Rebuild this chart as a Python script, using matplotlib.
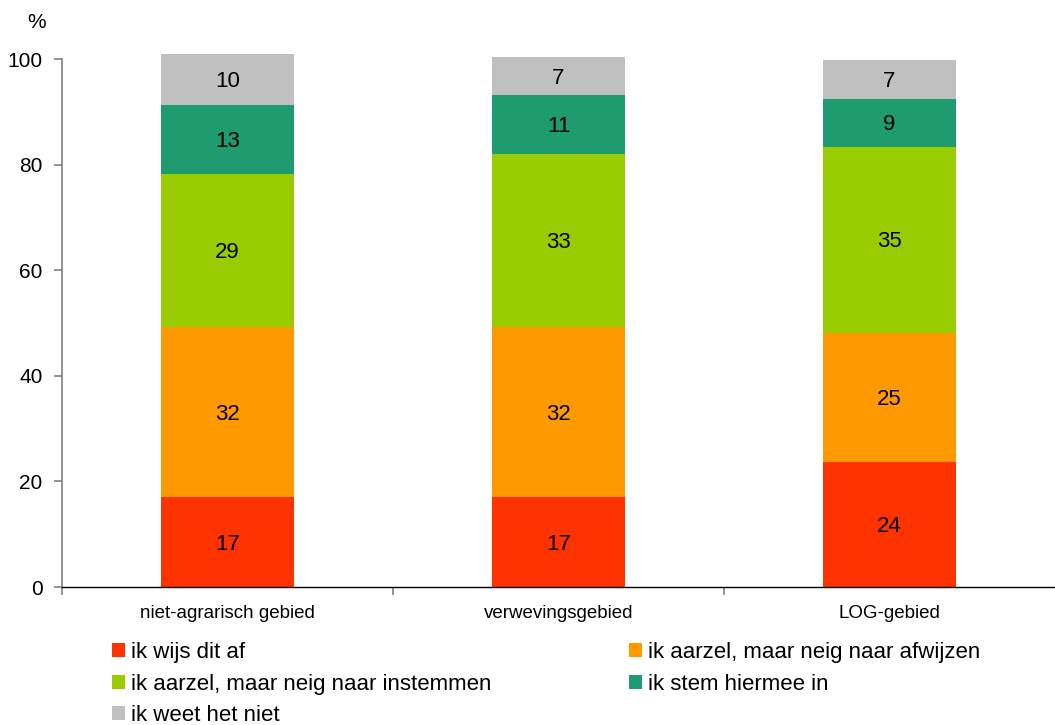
import numpy as np
import matplotlib.pyplot as plt
from matplotlib.patches import Patch

plt.rcParams['font.family'] = ['Liberation Sans', 'DejaVu Sans']

# Categorieen en waarden (procenten)
gebieden = ['niet-agrarisch gebied', 'verwevingsgebied', 'LOG-gebied']
wijs_af = [17.0, 17.0, 23.6]
neig_afwijzen = [32.2, 32.2, 24.6]
neig_instemmen = [29.0, 32.8, 35.2]
stem_in = [13.1, 11.2, 9.1]
weet_niet = [9.6, 7.2, 7.4]

reeksen = [wijs_af, neig_afwijzen, neig_instemmen, stem_in, weet_niet]
namen = ['ik wijs dit af', 'ik aarzel, maar neig naar afwijzen',
         'ik aarzel, maar neig naar instemmen', 'ik stem hiermee in',
         'ik weet het niet']
kleuren = ['#FF3300', '#FF9900', '#99CC00', '#1E9C6F', '#C0C0C0']

fig = plt.figure(figsize=(10.55, 7.25), dpi=100)
ax = fig.add_axes([0.0588, 0.1903, 0.9412, 0.7283])

x = np.arange(len(gebieden))
onder = np.zeros(len(gebieden))
for waarden, kleur in zip(reeksen, kleuren):
    waarden = np.array(waarden)
    ax.bar(x, waarden, 0.4, bottom=onder, color=kleur, clip_on=False, zorder=2)
    for xi, b, w in zip(x, onder, waarden):
        ax.text(xi, b + w / 2 - 0.4, f'{w:.0f}', ha='center', va='center', fontsize=16, color='black')
    onder += waarden

ax.set_xlim(-0.5, 2.5)
ax.set_ylim(0, 100)
ax.set_yticks(np.arange(0, 101, 20))
ax.tick_params(axis='y', labelsize=15, color='#808080', length=6, width=1.2, pad=8)
ax.set_xticks(x)
ax.set_xticklabels(gebieden, fontsize=13.5)
ax.set_xticks([-0.5, 0.5, 1.5], minor=True)
ax.tick_params(axis='x', which='major', length=0, pad=13)
ax.tick_params(axis='x', which='minor', length=6, color='#808080', width=1.2)

for s in ['top', 'right']:
    ax.spines[s].set_visible(False)
ax.spines['left'].set_color('#808080')
ax.spines['left'].set_linewidth(1.2)
ax.spines['bottom'].set_color('black')
ax.spines['bottom'].set_linewidth(1.0)

fig.text(37 / 1055, 1 - 22 / 725, '%', fontsize=15, ha='center', va='center')

# legenda rij voor rij: matplotlib vult kolom voor kolom
volgorde = [0, 2, 4, 1, 3]
handles = [Patch(facecolor=kleuren[i], edgecolor='none') for i in volgorde]
labels = [namen[i] for i in volgorde]
fig.legend(handles, labels, loc='upper left', bbox_to_anchor=(103 / 1055, 1 - 633 / 725),
           ncol=2, frameon=False, fontsize=16, handlelength=0.6, handleheight=0.6,
           handletextpad=0.25, columnspacing=6.2, labelspacing=0.48, borderaxespad=0)

fig.savefig('out.png', dpi=100)
